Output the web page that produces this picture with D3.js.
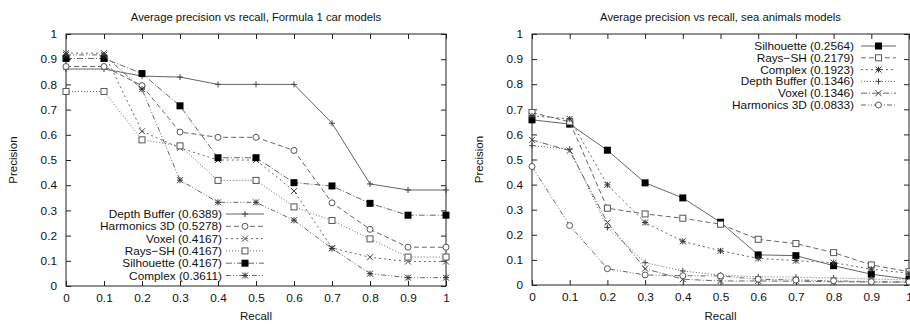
<!DOCTYPE html>
<html>
<head>
<meta charset="utf-8">
<script src="https://cdn.jsdelivr.net/npm/d3@7"></script>
<style>
  body { margin: 0; background: #fff; }
  svg { display: block; font-family: "Liberation Sans", Arial, sans-serif; }
</style>
</head>
<body>
<div id="chart"></div>
<script>
// recall levels (x axis)
const recall = [0, 0.1, 0.2, 0.3, 0.4, 0.5, 0.6, 0.7, 0.8, 0.9, 1];
const xTicks = [0, 0.1, 0.2, 0.3, 0.4, 0.5, 0.6, 0.7, 0.8, 0.9, 1];
const yTicks = [0, 0.1, 0.2, 0.3, 0.4, 0.5, 0.6, 0.7, 0.8, 0.9, 1];

// Formula 1 car models
const f1Titles = ["Depth Buffer (0.6389)", "Harmonics 3D (0.5278)", "Voxel (0.4167)", "Rays\u2212SH (0.4167)", "Silhouette (0.4167)", "Complex (0.3611)"];
const f1DepthBuffer = [0.861, 0.861, 0.833, 0.829, 0.8, 0.8, 0.8, 0.646, 0.405, 0.381, 0.381];
const f1Harmonics = [0.871, 0.871, 0.795, 0.611, 0.59, 0.59, 0.538, 0.33, 0.225, 0.154, 0.154];
const f1Voxel = [0.924, 0.924, 0.614, 0.548, 0.5, 0.5, 0.377, 0.151, 0.114, 0.097, 0.097];
const f1RaysSH = [0.772, 0.772, 0.58, 0.556, 0.419, 0.419, 0.314, 0.26, 0.187, 0.115, 0.115];
const f1Silhouette = [0.903, 0.903, 0.843, 0.715, 0.509, 0.509, 0.41, 0.397, 0.328, 0.281, 0.281];
const f1Complex = [0.917, 0.917, 0.781, 0.42, 0.332, 0.332, 0.261, 0.149, 0.049, 0.033, 0.033];

// sea animals models
const seaTitles = ["Silhouette (0.2564)", "Rays\u2212SH (0.2179)", "Complex (0.1923)", "Depth Buffer (0.1346)", "Voxel (0.1346)", "Harmonics 3D (0.0833)"];
const seaSilhouette = [0.658, 0.641, 0.537, 0.407, 0.347, 0.25, 0.12, 0.117, 0.077, 0.043, 0.023];
const seaRaysSH = [0.687, 0.65, 0.306, 0.283, 0.266, 0.242, 0.182, 0.165, 0.129, 0.08, 0.053];
const seaComplex = [0.674, 0.662, 0.399, 0.249, 0.174, 0.136, 0.106, 0.097, 0.089, 0.063, 0.047];
const seaDepthBuffer = [0.555, 0.541, 0.229, 0.089, 0.056, 0.039, 0.033, 0.031, 0.028, 0.024, 0.02];
const seaVoxel = [0.578, 0.535, 0.249, 0.065, 0.023, 0.016, 0.016, 0.015, 0.013, 0.012, 0.011];
const seaHarmonics = [0.472, 0.237, 0.065, 0.04, 0.037, 0.036, 0.023, 0.02, 0.017, 0.013, 0.012];

// gnuplot-ish line types, in order of plotting
const dashes = [null, "5,3", "2,3", "1,2", "6,2,1,2", "5,2,1,2,1,2"];

const svg = d3.select("#chart").append("svg")
  .attr("width", 910).attr("height", 325);
svg.append("rect").attr("width", 910).attr("height", 325).attr("fill", "#fff");

function marker(g, kind, cx, cy) {
  const s = 3;
  if (kind === "plus") {
    g.append("path").attr("d", `M${cx - s},${cy}H${cx + s}M${cx},${cy - s}V${cy + s}`)
      .attr("stroke", "#444").attr("fill", "none");
  } else if (kind === "circle") {
    g.append("circle").attr("cx", cx).attr("cy", cy).attr("r", 3)
      .attr("stroke", "#555").attr("fill", "#fff");
  } else if (kind === "cross") {
    g.append("path").attr("d", `M${cx - s},${cy - s}L${cx + s},${cy + s}M${cx - s},${cy + s}L${cx + s},${cy - s}`)
      .attr("stroke", "#444").attr("fill", "none");
  } else if (kind === "box") {
    g.append("rect").attr("x", cx - 3).attr("y", cy - 3).attr("width", 6).attr("height", 6)
      .attr("stroke", "#555").attr("fill", "#fff");
  } else if (kind === "fbox") {
    g.append("rect").attr("x", cx - 3.5).attr("y", cy - 3.5).attr("width", 7).attr("height", 7)
      .attr("fill", "#000");
  } else if (kind === "star") {
    g.append("path").attr("d", `M${cx - s},${cy}H${cx + s}M${cx},${cy - s}V${cy + s}M${cx - s},${cy - s}L${cx + s},${cy + s}M${cx - s},${cy + s}L${cx + s},${cy - s}`)
      .attr("stroke", "#333").attr("fill", "none");
  }
}

function drawChart(cfg) {
  const x = d3.scaleLinear().domain([0, 1]).range([cfg.left, cfg.right]);
  const y = d3.scaleLinear().domain([0, 1]).range([cfg.bottom, cfg.top]);
  const g = svg.append("g");

  // border
  g.append("rect").attr("x", cfg.left).attr("y", cfg.top)
    .attr("width", cfg.right - cfg.left).attr("height", cfg.bottom - cfg.top)
    .attr("fill", "none").attr("stroke", "#222");

  // axes with inward ticks, mirrored on top/right
  g.append("g").attr("transform", `translate(0,${cfg.bottom})`)
    .call(d3.axisBottom(x).tickValues(xTicks).tickSizeInner(-5).tickSizeOuter(0).tickPadding(8)
      .tickFormat(d3.format("~g")));
  g.append("g").attr("transform", `translate(${cfg.left},0)`)
    .call(d3.axisLeft(y).tickValues(yTicks).tickSizeInner(-5).tickSizeOuter(0).tickPadding(9)
      .tickFormat(d3.format("~g")));
  g.append("g").attr("transform", `translate(0,${cfg.top})`)
    .call(d3.axisTop(x).tickValues(xTicks).tickSizeInner(-5).tickSizeOuter(0).tickFormat(""));
  g.append("g").attr("transform", `translate(${cfg.right},0)`)
    .call(d3.axisRight(y).tickValues(yTicks).tickSizeInner(-5).tickSizeOuter(0).tickFormat(""));
  g.selectAll(".domain").remove();
  g.selectAll(".tick line").attr("stroke", "#222");
  g.selectAll(".tick text").attr("font-size", 11.8).attr("fill", "#111")
    .attr("font-family", "Liberation Sans, Arial, sans-serif");

  // titles
  g.append("text").attr("x", (cfg.left + cfg.right) / 2).attr("y", 21)
    .attr("text-anchor", "middle").attr("font-size", 11.3).attr("fill", "#111").text(cfg.title);
  g.append("text").attr("x", (cfg.left + cfg.right) / 2).attr("y", 320)
    .attr("text-anchor", "middle").attr("font-size", 11.5).attr("fill", "#111").text("Recall");
  g.append("text")
    .attr("transform", `translate(${cfg.left - 49},${(cfg.top + cfg.bottom) / 2}) rotate(-90)`)
    .attr("text-anchor", "middle").attr("font-size", 11.5).attr("fill", "#111").text("Precision");

  const line = d3.line().x((d, i) => x(recall[i])).y(d => y(d));

  cfg.series.forEach((vals, k) => {
    const sg = g.append("g");
    sg.append("path").attr("d", line(vals)).attr("fill", "none")
      .attr("stroke", "#666").attr("stroke-width", 1)
      .attr("stroke-dasharray", cfg.dashes[k]);
    vals.forEach((v, i) => marker(sg, cfg.markers[k], x(recall[i]), y(v)));

    // legend row
    const ly = cfg.legendY + k * cfg.legendStep;
    g.append("text").attr("x", cfg.legendTextX).attr("y", ly + 4)
      .attr("text-anchor", "end").attr("font-size", 11.8).attr("fill", "#111").text(cfg.titles[k]);
    g.append("line").attr("x1", cfg.legendLineX0).attr("x2", cfg.legendLineX1)
      .attr("y1", ly).attr("y2", ly).attr("stroke", "#666")
      .attr("stroke-dasharray", cfg.dashes[k]);
    marker(g, cfg.markers[k], (cfg.legendLineX0 + cfg.legendLineX1) / 2, ly);
  });
}

drawChart({
  left: 66, right: 446, top: 34, bottom: 286,
  title: "Average precision vs recall, Formula 1 car models",
  titles: f1Titles,
  series: [f1DepthBuffer, f1Harmonics, f1Voxel, f1RaysSH, f1Silhouette, f1Complex],
  markers: ["plus", "circle", "cross", "box", "fbox", "star"],
  dashes: dashes,
  legendY: 214, legendStep: 12.3, legendTextX: 222, legendLineX0: 226, legendLineX1: 264
});

drawChart({
  left: 532, right: 909, top: 34, bottom: 285,
  title: "Average precision vs recall, sea animals models",
  titles: seaTitles,
  series: [seaSilhouette, seaRaysSH, seaComplex, seaDepthBuffer, seaVoxel, seaHarmonics],
  markers: ["fbox", "box", "star", "plus", "cross", "circle"],
  dashes: dashes,
  legendY: 46, legendStep: 11.8, legendTextX: 854, legendLineX0: 861, legendLineX1: 896
});
</script>
</body>
</html>
